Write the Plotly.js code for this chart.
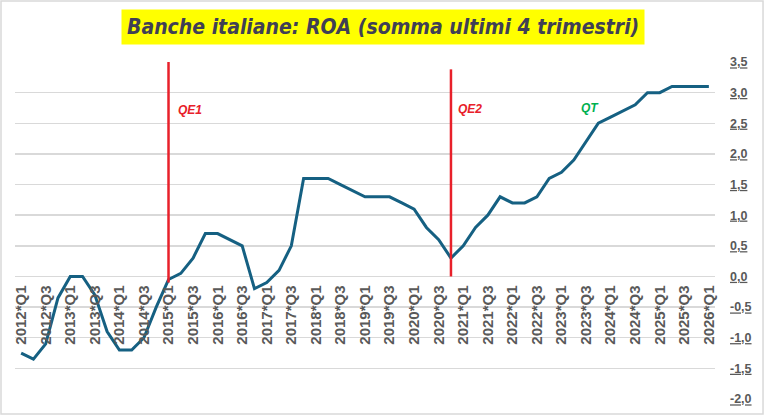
<!DOCTYPE html>
<html>
<head>
<meta charset="utf-8">
<script src="https://cdn.plot.ly/plotly-3.0.1.min.js"></script>
<style>
  html, body { margin: 0; padding: 0; background: #fff; }
  #chart { width: 765px; height: 416px; }
</style>
</head>
<body>
<div id="chart"></div>
<script>
// quarters 2012*Q1 .. 2026*Q1
var years = [2012, 2013, 2014, 2015, 2016, 2017, 2018, 2019, 2020, 2021, 2022, 2023, 2024, 2025, 2026];
var quarters = ['Q1', 'Q2', 'Q3', 'Q4'];
var categories = [];
years.forEach(function (y) {
    quarters.forEach(function (q) {
        if (y < 2026 || q === 'Q1') categories.push(y + '*' + q);
    });
});

// ROA, sum of last 4 quarters
var roa = [
    -1.25, -1.35, -1.1, -0.35,
    0.0, 0.0, -0.3, -0.9,
    -1.2, -1.2, -1.0, -0.5,
    -0.05, 0.05, 0.3, 0.7,
    0.7, 0.6, 0.5, -0.2,
    -0.1, 0.1, 0.5, 1.6,
    1.6, 1.6, 1.5, 1.4,
    1.3, 1.3, 1.3, 1.2,
    1.1, 0.8, 0.6, 0.3,
    0.5, 0.8, 1.0, 1.3,
    1.2, 1.2, 1.3, 1.6,
    1.7, 1.9, 2.2, 2.5,
    2.6, 2.7, 2.8, 3.0,
    3.0, 3.1, 3.1, 3.1,
    3.1
];

// labelled x ticks: Q1 and Q3 only
var xTicks = categories.filter(function (c) {
    return c.slice(-2) === 'Q1' || c.slice(-2) === 'Q3';
});

var yTicks = [-2.0, -1.5, -1.0, -0.5, 0.0, 0.5, 1.0, 1.5, 2.0, 2.5, 3.0, 3.5];
var yTickText = yTicks.map(function (v) {
    return '<u>' + v.toFixed(1).replace('.', ',') + '</u>';
});

// policy events
var events = ['2015*Q1', '2020*Q4'];
var eventNames = ['QE1', 'QE2'];
var qtStart = '2023*Q3';

var yMin = -2.0, yMax = 3.5;

var trace = {
    x: categories,
    y: roa,
    type: 'scatter',
    mode: 'lines',
    line: { color: '#156082', width: 3 },
    hoverinfo: 'x+y'
};

var shapes = [
    // outer frame
    {
        type: 'rect', xref: 'paper', yref: 'paper',
        x0: -0.02, x1: 1.0686, y0: -0.0445, y1: 1.181,
        line: { color: '#d9d9d9', width: 1.5 }, layer: 'below'
    },
    {
        type: 'line', xref: 'x', yref: 'y',
        x0: events[0], x1: events[0], y0: -0.1, y1: 3.5,
        line: { color: '#e8202a', width: 2.5 }
    },
    {
        type: 'line', xref: 'x', yref: 'y',
        x0: events[1], x1: events[1], y0: 0.0, y1: 3.38,
        line: { color: '#e8202a', width: 2.5 }
    }
];

var annotations = [
    {
        text: 'Banche italiane: ROA (somma ultimi 4 trimestri)',
        xref: 'paper', yref: 'paper', x: 0.525, y: 1.105,
        xanchor: 'center', yanchor: 'middle', showarrow: false,
        bgcolor: '#ffff00', borderpad: 5,
        font: { family: '"Liberation Sans Narrow", "DejaVu Sans Condensed", "Liberation Sans", sans-serif', size: 21, color: '#403f55', weight: 'bold', style: 'italic' }
    },
    {
        text: eventNames[0], xref: 'x', yref: 'y', x: events[0], y: 2.72,
        xanchor: 'left', yanchor: 'middle', xshift: 7, showarrow: false,
        font: { family: '"Liberation Sans", Arial, sans-serif', size: 12, color: '#e8202a', weight: 'bold', style: 'italic' }
    },
    {
        text: eventNames[1], xref: 'x', yref: 'y', x: events[1], y: 2.74,
        xanchor: 'left', yanchor: 'middle', xshift: 5, showarrow: false,
        font: { family: '"Liberation Sans", Arial, sans-serif', size: 12, color: '#e8202a', weight: 'bold', style: 'italic' }
    },
    {
        text: 'QT', xref: 'x', yref: 'y', x: qtStart, y: 2.75,
        xanchor: 'center', yanchor: 'middle', xshift: 4, showarrow: false,
        font: { family: '"Liberation Sans", Arial, sans-serif', size: 12, color: '#00b050', weight: 'bold', style: 'italic' }
    }
];

var layout = {
    width: 765,
    height: 416,
    margin: { l: 15, r: 50, t: 62, b: 17 },
    paper_bgcolor: '#ffffff',
    plot_bgcolor: '#ffffff',
    showlegend: false,
    xaxis: {
        type: 'category',
        range: [-0.5, categories.length - 0.5],
        anchor: 'free',
        position: (0 - yMin) / (yMax - yMin),
        tickmode: 'array',
        tickvals: xTicks,
        ticktext: xTicks,
        tickangle: -90,
        ticks: '',
        ticklabelstandoff: 5,
        showgrid: false,
        zeroline: false,
        showline: false,
        tickfont: { family: '"Liberation Sans", Arial, sans-serif', size: 15, color: '#595959', weight: 'bold' }
    },
    yaxis: {
        side: 'right',
        range: [yMin, yMax],
        tickmode: 'array',
        tickvals: yTicks,
        ticktext: yTickText,
        ticks: '',
        ticklabelstandoff: 14,
        showgrid: true,
        gridcolor: '#d9d9d9',
        gridwidth: 1.5,
        zeroline: false,
        showline: false,
        tickfont: { family: '"Liberation Sans", Arial, sans-serif', size: 12.5, color: '#595959', weight: 'bold' }
    },
    shapes: shapes,
    annotations: annotations
};

Plotly.newPlot('chart', [trace], layout, { displayModeBar: false, staticPlot: true });
</script>
</body>
</html>
